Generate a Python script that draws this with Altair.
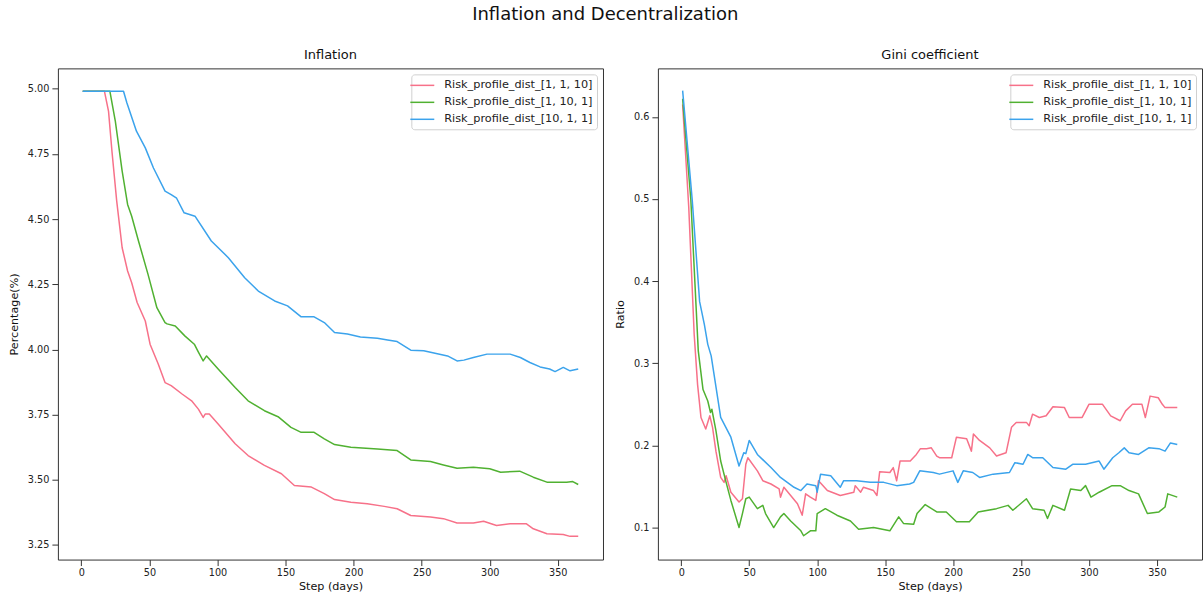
import altair as alt
import pandas as pd

SERIES = [
    "Risk_profile_dist_[1, 1, 10]",
    "Risk_profile_dist_[1, 10, 1]",
    "Risk_profile_dist_[10, 1, 1]",
]
COLORS = ["#f77189", "#50b131", "#3ba3ec"]
X_TICKS = [0, 50, 100, 150, 200, 250, 300, 350]

# ---- Inflation (%) by step ----
INF_A_DAYS = [1, 17, 20, 22.5, 26, 30, 34, 37, 41, 47, 50.5, 56.5, 61.5, 66, 74, 81, 86, 89.5, 91, 94,
              100.5, 113, 122.5, 134.5, 147, 156.5, 169, 178.5, 186, 198, 210, 222.5, 232, 242, 256.5,
              266, 276, 288, 295.5, 305, 315, 327, 332, 342, 354, 359, 365]
INF_A_VALS = [4.99, 4.99, 4.913, 4.76, 4.569, 4.39, 4.301, 4.256, 4.18, 4.109, 4.02, 3.944, 3.873, 3.861,
              3.829, 3.803, 3.771, 3.739, 3.752, 3.752, 3.714, 3.638, 3.593, 3.555, 3.523, 3.478, 3.472,
              3.447, 3.424, 3.414, 3.408, 3.398, 3.389, 3.363, 3.357, 3.351, 3.334, 3.334, 3.341, 3.325,
              3.331, 3.331, 3.312, 3.293, 3.29, 3.283, 3.283]

INF_B_DAYS = [1, 21, 25, 30, 34, 37, 42, 49, 55.5, 61.5, 63, 69, 76, 83, 86, 89.5, 92, 100.5, 113, 122.5,
              134.5, 144.5, 154, 161.5, 171, 178.5, 186, 198, 217.5, 232, 242, 256.5, 266, 276, 288, 300,
              308, 322, 332, 342, 349, 356.5, 361, 365]
INF_B_VALS = [4.99, 4.99, 4.875, 4.684, 4.556, 4.511, 4.416, 4.288, 4.16, 4.103, 4.098, 4.09, 4.052, 4.02,
              3.99, 3.956, 3.975, 3.925, 3.854, 3.803, 3.765, 3.742, 3.701, 3.682, 3.682, 3.657, 3.635,
              3.625, 3.618, 3.612, 3.576, 3.57, 3.557, 3.544, 3.548, 3.542, 3.529, 3.533, 3.51, 3.491,
              3.491, 3.491, 3.493, 3.482]

INF_C_DAYS = [1, 31, 33.5, 40.5, 47, 53, 61.5, 66, 70, 75.5, 83.5, 95.5, 108, 120, 130, 142, 151.5, 161.5,
              171, 178.5, 186, 195.5, 205, 217.5, 225, 232, 242, 251.5, 259, 269, 276, 281, 288, 298, 315,
              322.5, 329.5, 337, 344, 348, 354, 359, 365]
INF_C_VALS = [4.99, 4.99, 4.945, 4.837, 4.773, 4.696, 4.607, 4.594, 4.58, 4.524, 4.511, 4.416, 4.352, 4.275,
              4.224, 4.186, 4.167, 4.125, 4.125, 4.103, 4.065, 4.059, 4.048, 4.043, 4.036, 4.03, 3.997,
              3.995, 3.986, 3.975, 3.956, 3.959, 3.969, 3.982, 3.982, 3.969, 3.95, 3.933, 3.925, 3.915,
              3.931, 3.918, 3.925]

# ---- Gini coefficient by step ----
GINI_A_DAYS = [1, 5.5, 9.5, 12, 14.5, 18, 21, 23, 25.5, 29, 31.5, 33, 36.5, 42.5, 45, 47.5, 49, 56, 60, 66,
               72, 73, 75.5, 80.5, 85.5, 89, 91.5, 95, 99, 101, 107.5, 117, 127, 128, 132, 134, 141.5, 144,
               146, 153.5, 156, 158.5, 161, 168.5, 173, 176, 180.5, 184, 188, 190, 199, 202.5, 210, 213.5,
               215, 219.5, 227, 232, 239, 243, 246.5, 254, 256, 258.5, 263.5, 268.5, 273.5, 282, 285.5,
               295, 300, 310, 316, 323, 327, 332, 339, 341.5, 345, 351, 354, 356, 365]
GINI_A_VALS = [0.615, 0.49, 0.335, 0.274, 0.234, 0.22, 0.236, 0.222, 0.193, 0.161, 0.155, 0.163, 0.143,
               0.131, 0.135, 0.177, 0.185, 0.169, 0.157, 0.153, 0.147, 0.137, 0.149, 0.139, 0.129, 0.115,
               0.141, 0.137, 0.133, 0.157, 0.145, 0.139, 0.143, 0.151, 0.143, 0.149, 0.145, 0.139, 0.168,
               0.167, 0.173, 0.157, 0.181, 0.181, 0.189, 0.196, 0.196, 0.197, 0.187, 0.185, 0.185, 0.21,
               0.208, 0.193, 0.214, 0.206, 0.197, 0.187, 0.191, 0.222, 0.228, 0.228, 0.224, 0.238, 0.234,
               0.236, 0.247, 0.246, 0.234, 0.234, 0.25, 0.25, 0.236, 0.23, 0.242, 0.25, 0.25, 0.234, 0.26,
               0.258, 0.25, 0.246, 0.246]

GINI_B_DAYS = [1, 7, 12.5, 16, 19.5, 21.5, 22.5, 25.5, 29, 33, 36.5, 42.5, 45, 47.5, 50, 56, 60, 62, 68, 73,
               75.5, 80.5, 88, 90, 95, 99, 100, 106, 114.5, 124.5, 130.5, 141.5, 153.5, 160, 163.5, 171,
               173.5, 179.5, 188, 195, 202.5, 212, 218.5, 232, 240.5, 244, 254, 258.5, 267, 269.5, 273.5,
               282, 286.5, 294, 297.5, 301.5, 307.5, 317, 323, 329.5, 336.5, 343, 351.5, 356, 358, 365]
GINI_B_VALS = [0.622, 0.5, 0.315, 0.268, 0.254, 0.24, 0.244, 0.218, 0.181, 0.155, 0.133, 0.1, 0.117, 0.135,
               0.137, 0.123, 0.127, 0.117, 0.1, 0.113, 0.117, 0.108, 0.096, 0.09, 0.096, 0.096, 0.117,
               0.123, 0.115, 0.108, 0.098, 0.1, 0.096, 0.113, 0.105, 0.104, 0.117, 0.128, 0.119, 0.119,
               0.107, 0.107, 0.119, 0.123, 0.127, 0.121, 0.135, 0.123, 0.121, 0.111, 0.127, 0.121, 0.147,
               0.145, 0.151, 0.137, 0.143, 0.151, 0.151, 0.145, 0.141, 0.117, 0.119, 0.125, 0.141, 0.137]

GINI_C_DAYS = [1, 8, 13.5, 17, 19.5, 22, 29, 36.5, 42.5, 46, 47.5, 50, 56, 66, 73, 83, 88, 92.5, 99, 100,
               102.5, 110, 117, 119.5, 129, 139, 149, 158.5, 168, 171, 175.5, 185.5, 190, 200, 203.5,
               207.5, 214.5, 219.5, 229.5, 241.5, 245.5, 251.5, 255, 258.5, 266, 273.5, 283, 288, 297.5,
               307.5, 311, 317.5, 322, 326, 329.5, 336.5, 344, 351.5, 356, 360, 365]
GINI_C_VALS = [0.632, 0.5, 0.375, 0.347, 0.323, 0.309, 0.234, 0.21, 0.175, 0.191, 0.19, 0.206, 0.189,
               0.173, 0.161, 0.149, 0.145, 0.153, 0.151, 0.143, 0.165, 0.163, 0.149, 0.157, 0.157, 0.155,
               0.155, 0.151, 0.153, 0.155, 0.169, 0.167, 0.165, 0.169, 0.155, 0.169, 0.167, 0.161, 0.165,
               0.167, 0.179, 0.177, 0.189, 0.185, 0.185, 0.173, 0.171, 0.177, 0.177, 0.181, 0.171, 0.185,
               0.191, 0.197, 0.191, 0.189, 0.197, 0.196, 0.193, 0.203, 0.201]

FONT = "DejaVu Sans"


def frame(pairs):
    rows = []
    for name, days, vals in pairs:
        for d, v in zip(days, vals):
            rows.append({"day": d, "value": v, "series": name})
    return pd.DataFrame(rows)


inflation_df = frame([(SERIES[0], INF_A_DAYS, INF_A_VALS),
                      (SERIES[1], INF_B_DAYS, INF_B_VALS),
                      (SERIES[2], INF_C_DAYS, INF_C_VALS)])
gini_df = frame([(SERIES[0], GINI_A_DAYS, GINI_A_VALS),
                 (SERIES[1], GINI_B_DAYS, GINI_B_VALS),
                 (SERIES[2], GINI_C_DAYS, GINI_C_VALS)])


def panel(df, title, y_title, y_domain, y_ticks, y_fmt, width):
    return alt.Chart(df).mark_line(strokeWidth=1.5, strokeJoin="round").encode(
        x=alt.X("day:Q",
                scale=alt.Scale(domain=[-17.2, 383.2], nice=False, zero=False),
                axis=alt.Axis(values=X_TICKS, format="d", title="Step (days)",
                              labelPadding=2, titlePadding=3)),
        y=alt.Y("value:Q",
                scale=alt.Scale(domain=y_domain, nice=False, zero=False),
                axis=alt.Axis(values=y_ticks, format=y_fmt, title=y_title,
                              labelPadding=3, titlePadding=8)),
        color=alt.Color("series:N",
                        scale=alt.Scale(domain=SERIES, range=COLORS),
                        legend=alt.Legend(
                            title=None, orient="top-right", offset=6,
                            symbolType="M-2,0H2", symbolSize=144, symbolStrokeWidth=1.5,
                            labelFontSize=11.3, labelFont=FONT, labelColor="#222222",
                            strokeColor="#d0d0d0", fillColor="#ffffff",
                            cornerRadius=3, padding=4, rowPadding=4,
                            symbolOffset=0, labelOffset=15)),
    ).properties(
        width=width, height=492,
        title=alt.TitleParams(title, fontSize=13, font=FONT, fontWeight="normal",
                              color="#111111", anchor="middle", offset=6),
    )


left = panel(inflation_df, "Inflation", "Percentage(%)", [3.194, 5.078],
             [3.25, 3.5, 3.75, 4.0, 4.25, 4.5, 4.75, 5.0], ".2f", 546)
right = panel(gini_df, "Gini coefficient", "Ratio", [0.061, 0.659],
              [0.1, 0.2, 0.3, 0.4, 0.5, 0.6], ".1f", 545)

chart = alt.hconcat(left, right, spacing=10).resolve_scale(
    color="independent"
).resolve_legend(
    color="independent"
).properties(
    title=alt.TitleParams("Inflation and Decentralization", fontSize=18, font=FONT,
                          fontWeight="normal", color="#111111", anchor="middle", offset=25),
    padding={"left": 7, "top": 5, "right": 0, "bottom": 4},
).configure_view(
    stroke="#333333", strokeWidth=1
).configure_axis(
    domain=False, grid=False, tickSize=6, tickColor="#333333",
    labelFont=FONT, labelFontSize=9.7, labelColor="#222222",
    titleFont=FONT, titleFontSize=11.2, titleFontWeight="normal", titleColor="#111111",
)

chart.save("out.html", embed_options={"renderer": "svg", "actions": False})
